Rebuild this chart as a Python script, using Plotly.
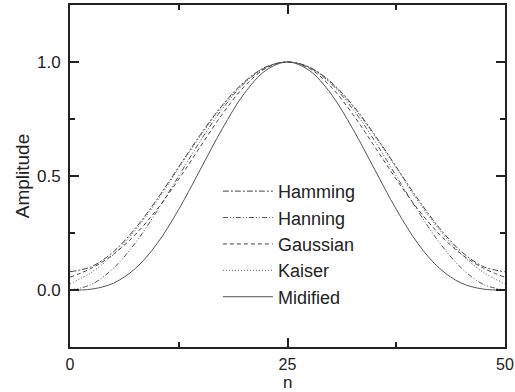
import plotly.graph_objects as go

n = [0, 2.5, 5, 7.5, 10, 12.5, 15, 17.5, 20, 22.5, 25,
     27.5, 30, 32.5, 35, 37.5, 40, 42.5, 45, 47.5, 50]

_ham_half = [0.080, 0.103, 0.168, 0.270, 0.398, 0.540, 0.682, 0.810, 0.912, 0.978, 1.0]
_han_half = [0.000, 0.025, 0.096, 0.206, 0.346, 0.500, 0.655, 0.794, 0.905, 0.976, 1.0]
_gau_half = [0.056, 0.096, 0.157, 0.243, 0.354, 0.486, 0.630, 0.771, 0.891, 0.972, 1.0]
_kai_half = [0.027, 0.078, 0.156, 0.262, 0.389, 0.535, 0.676, 0.805, 0.908, 0.976, 1.0]
_mod_half = [0.000, 0.004, 0.030, 0.094, 0.203, 0.354, 0.530, 0.707, 0.860, 0.963, 1.0]

hamming = _ham_half + _ham_half[-2::-1]
hanning = _han_half + _han_half[-2::-1]
gaussian = _gau_half + _gau_half[-2::-1]
kaiser = _kai_half + _kai_half[-2::-1]
modified = _mod_half + _mod_half[-2::-1]

series_names = ["Hamming", "Hanning", "Gaussian", "Kaiser", "Midified"]
series_values = [hamming, hanning, gaussian, kaiser, modified]
dashes = ["6px,2px,2px,2px", "5px,2px,1px,2px,1px,2px", "4px,3px", "1px,2px", "solid"]
colors = ["#444444", "#555555", "#444444", "#555555", "#555555"]
x_title = "n"
y_title = "Amplitude"

fig = go.Figure()
for i, (name, vals, d, c) in enumerate(zip(series_names, series_values, dashes, colors)):
    fig.add_trace(go.Scatter(
        x=n, y=vals, name=name, mode="lines",
        line=dict(color=c, width=1, dash=d, shape="spline"),
    ))

fam = "Arial, Liberation Sans, sans-serif"

fig.update_layout(
    width=515, height=392,
    margin=dict(l=70, r=10, t=5, b=45),
    paper_bgcolor="white", plot_bgcolor="white",
    font=dict(family=fam, size=17, color="#222222"),
    showlegend=True,
    legend=dict(
        x=0.34, y=0.509, xanchor="left", yanchor="top",
        bgcolor="rgba(0,0,0,0)", borderwidth=0,
        font=dict(family=fam, size=18, color="#222222"),
        itemwidth=50,
    ),
    xaxis=dict(
        range=[0, 50], tickvals=[0, 25, 50], ticktext=["0", "25", "50"],
        ticks="inside", ticklen=9, tickwidth=1.5, tickcolor="#222",
        minor=dict(tickvals=[12.5, 37.5], ticks="inside", ticklen=5, tickwidth=1.5, tickcolor="#222"),
        showline=True, linecolor="#222", linewidth=2, mirror="allticks",
        showgrid=False, zeroline=False, automargin=False,
        tickfont=dict(size=16),
        ticklabelstandoff=2,
    ),
    yaxis=dict(
        range=[-0.25, 1.25], tickvals=[0, 0.5, 1.0], ticktext=["0.0", "0.5", "1.0"],
        ticks="inside", ticklen=9, tickwidth=1.5, tickcolor="#222",
        minor=dict(tickvals=[0.25, 0.75], ticks="inside", ticklen=5, tickwidth=1.5, tickcolor="#222"),
        showline=True, linecolor="#222", linewidth=2, mirror="allticks",
        showgrid=False, zeroline=False, automargin=False,
        title=dict(text=y_title, standoff=2, font=dict(size=19)),
        ticklabelstandoff=4,
    ),
    annotations=[dict(
        text=x_title, x=25, xref="x", y=-0.1345, yref="paper",
        xanchor="center", yanchor="bottom", showarrow=False, borderpad=0,
        font=dict(family=fam, size=17, color="#222222"),
    )],
)

fig.write_html("out.html")
